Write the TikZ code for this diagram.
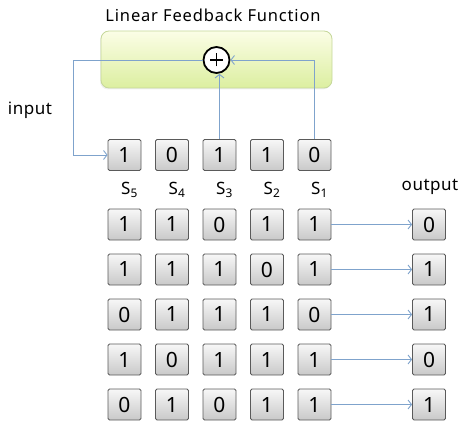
\documentclass[tikz,border=0pt]{standalone}
\usepackage{fontspec}
\setmainfont{Noto Sans}
\newfontfamily\spacedfont[LetterSpace=5]{Noto Sans}
\newfontfamily\lblfont[LetterSpace=3]{Noto Sans}
\usetikzlibrary{arrows.meta,shadows}

\definecolor{wirecol}{HTML}{7FA3CC}
\definecolor{celledge}{HTML}{5A5A5A}
\definecolor{celltop}{HTML}{F7F7F7}
\definecolor{cellbot}{HTML}{C9C9C9}
\definecolor{lfftop}{HTML}{FBFDE6}
\definecolor{lffbot}{HTML}{DCEFA0}
\definecolor{lffedge}{HTML}{C5D79A}

\begin{document}
\begin{tikzpicture}[x=1pt,y=-1pt,
  cell/.style={draw=celledge, line width=0.8pt, rounded corners=1.5pt,
    top color=celltop, bottom color=cellbot,
    minimum width=33pt, minimum height=31pt, inner sep=0pt,
    font=\fontsize{21}{21}\selectfont},
  wire/.style={draw=wirecol, line width=0.9pt},
  tip/.style={-{Straight Barb[length=3.5pt,width=9pt]}},
  label/.style={font=\spacedfont\fontsize{16.5}{17}\selectfont, inner sep=0pt},
  reglabel/.style={font=\lblfont\fontsize{17}{17}\selectfont, inner sep=0pt}
]
\useasboundingbox (0,0) rectangle (460,425);

% feedback function box
\node[draw=lffedge, line width=0.8pt, rounded corners=8pt,
      top color=lfftop, bottom color=lffbot,
      minimum width=231pt, minimum height=57pt,
      drop shadow={opacity=0.12, shadow xshift=-1pt, shadow yshift=-1.5pt}]
      (lff) at (216.5,59.5) {};
\node[label] (title) at (213,15) {Linear Feedback Function};

% XOR gate
\node[circle, draw=black, line width=1.8pt, fill=white, minimum size=26pt, inner sep=0pt,
      path picture={\draw[line width=1.4pt]
        ([xshift=-6.5pt]path picture bounding box.center) -- ([xshift=6.5pt]path picture bounding box.center)
        ([yshift=-6.5pt]path picture bounding box.center) -- ([yshift=6.5pt]path picture bounding box.center);}]
      (xor) at (216.5,60) {};

% register rows: initial state and the following states with their outputs
\foreach \yy/\r/\bits/\out in {155/0/{1,0,1,1,0}/,
    224.5/1/{1,1,0,1,1}/0, 269.5/2/{1,1,1,0,1}/1, 314.5/3/{0,1,1,1,0}/1,
    359.5/4/{1,0,1,1,1}/0, 404.5/5/{0,1,0,1,1}/1} {
  \foreach \b [count=\c] in \bits {
    \node[cell] (r\r c\c) at ({124.5+47.5*(\c-1)},\yy) {\b};
  }
  \ifnum\r>0
    \node[cell] (o\r) at (429,\yy) {\out};
    \draw[wire,tip] (r\r c5) -- (o\r);
  \fi
}

% stage labels
\foreach \c/\s in {1/5,2/4,3/3,4/2,5/1} {
  \node[reglabel] (s\s) at ({129.5+47.5*(\c-1)},190) {S\textsubscript{\s}};
}
\node[reglabel] (outlbl) at (430,187) {output};
\node[reglabel] (inlbl) at (30,110) {input};

% taps and feedback
\coordinate (fbl) at (73,60);
\draw[wire,tip] (xor.west) -- (fbl) |- (r0c1.west);
\draw[wire,tip] (r0c3.north) -- (r0c3.north |- xor.south);
\draw[wire,tip] (r0c5.north) |- (xor.east);
\end{tikzpicture}
\end{document}
